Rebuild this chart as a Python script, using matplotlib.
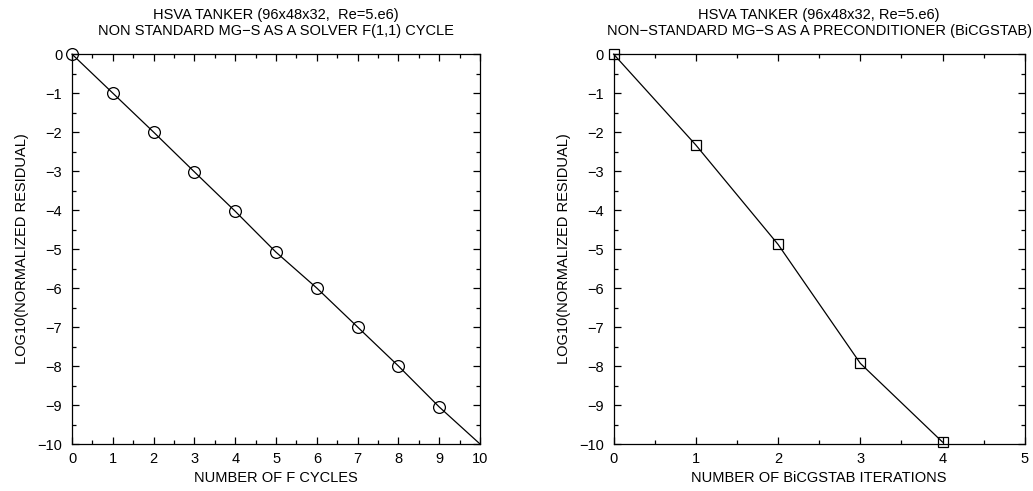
import matplotlib
matplotlib.use('Agg')
import matplotlib.pyplot as plt
from matplotlib.ticker import MultipleLocator

plt.rcParams['font.family'] = ['Liberation Sans', 'DejaVu Sans']
plt.rcParams['font.size'] = 10.5

# left panel: MG-S as a solver, F(1,1) cycles
f_cycles = [0, 1, 2, 3, 4, 5, 6, 7, 8, 9, 10]
f_resid = [0, -1.0, -2.0, -3.02, -4.03, -5.08, -6.0, -7.0, -8.0, -9.05, -10.0]

# right panel: MG-S as a BiCGSTAB preconditioner
bicg_iters = [0, 1, 2, 3, 4]
bicg_resid = [0, -2.33, -4.88, -7.93, -9.95]

fig = plt.figure(figsize=(10.33, 4.91), dpi=100)
ax1 = fig.add_axes([0.0697, 0.0957, 0.395, 0.794])
ax2 = fig.add_axes([0.594, 0.0957, 0.398, 0.794])

ax1.plot(f_cycles, f_resid, color='black', lw=0.9, marker='o', ms=8.5,
         mfc='none', mec='black', mew=0.9, markevery=list(range(10)), clip_on=False)
ax2.plot(bicg_iters, bicg_resid, color='black', lw=0.9, marker='s', ms=6.5,
         mfc='none', mec='black', mew=0.9, clip_on=False)

ax1.set_xlim(0, 10)
ax1.xaxis.set_major_locator(MultipleLocator(1))
ax1.xaxis.set_minor_locator(MultipleLocator(0.5))
ax2.set_xlim(0, 5)
ax2.xaxis.set_major_locator(MultipleLocator(1))
ax2.xaxis.set_minor_locator(MultipleLocator(0.5))

ax1.set_title('HSVA TANKER (96x48x32,  Re=5.e6)\nNON STANDARD MG\u2212S AS A SOLVER F(1,1) CYCLE',
              fontsize=10.5, linespacing=1.15, pad=14)
ax2.set_title('HSVA TANKER (96x48x32, Re=5.e6)\nNON\u2212STANDARD MG\u2212S AS A PRECONDITIONER (BiCGSTAB)',
              fontsize=10.5, linespacing=1.15, pad=14)
ax1.set_xlabel('NUMBER OF F CYCLES', labelpad=3)
ax2.set_xlabel('NUMBER OF BiCGSTAB ITERATIONS', labelpad=3)

for ax in (ax1, ax2):
    ax.set_ylim(-10, 0)
    ax.yaxis.set_major_locator(MultipleLocator(1))
    ax.yaxis.set_minor_locator(MultipleLocator(0.5))
    ax.set_ylabel('LOG10(NORMALIZED RESIDUAL)', labelpad=6)
    ax.tick_params(which='both', direction='in', top=True, right=True, width=0.9)
    ax.tick_params(which='major', length=5, pad=6)
    ax.tick_params(axis='y', which='major', pad=7)
    ax.tick_params(which='minor', length=3)
    for sp in ax.spines.values():
        sp.set_linewidth(0.9)

fig.savefig('out.png', dpi=100)
